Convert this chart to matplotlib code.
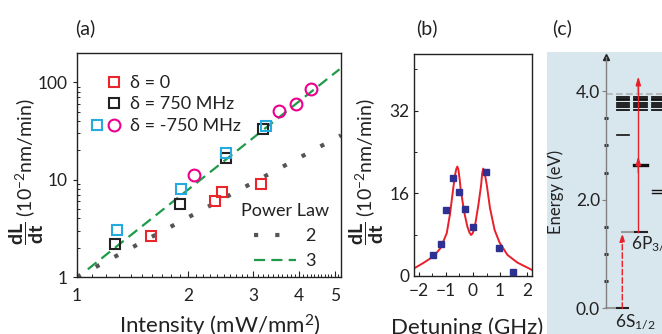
import numpy as np
import matplotlib
matplotlib.use("Agg")
import matplotlib.pyplot as plt
from matplotlib.lines import Line2D
from matplotlib.legend_handler import HandlerTuple
from matplotlib.ticker import FixedLocator, NullFormatter, FixedFormatter

plt.rcParams['font.family'] = ['Lato', 'Liberation Serif', 'DejaVu Sans']
plt.rcParams['mathtext.fontset'] = 'custom'
plt.rcParams['mathtext.rm'] = 'Lato'
plt.rcParams['mathtext.bf'] = 'Lato:bold'
plt.rcParams['mathtext.it'] = 'Lato:italic'
TXT = '#222222'

# ---------------- data: panel (a) ----------------
d0_x = [1.59, 2.37, 2.47, 3.15]
d0_y = [2.65, 6.07, 7.4, 9.1]
p750_x = [1.266, 1.905, 2.53, 3.20]
p750_y = [2.2, 5.66, 16.6, 33.3]
m750_sq_x = [1.284, 1.91, 2.54, 3.25]
m750_sq_y = [3.03, 7.95, 18.7, 35.5]
m750_ci_x = [2.08, 3.53, 3.92, 4.30]
m750_ci_y = [11.1, 50.2, 59.3, 85.4]
pl2_x = [1.0, 5.2]
pl2_y = [1.0, 28.5]
pl3_x = [1.07, 5.15]
pl3_y = [1.2, 136.0]

# ---------------- data: panel (b) ----------------
det_x = [-1.49, -1.2, -0.99, -0.74, -0.51, -0.31, 0.0, 0.47, 0.975, 1.47]
det_y = [4.07, 6.2, 12.8, 19.07, 16.35, 13.06, 9.44, 20.2, 5.37, 0.71]
fit_x = [-2.17, -1.81, -1.44, -1.2, -0.97, -0.85, -0.73, -0.67, -0.62, -0.58,
         -0.54, -0.49, -0.46, -0.33, -0.21, -0.13, -0.07, -0.01, 0.07, 0.2,
         0.3, 0.34, 0.38, 0.42, 0.46, 0.51, 0.63, 0.8, 0.98, 1.27, 1.64, 2.17]
fit_y = [1.5, 2.6, 3.9, 5.4, 8.3, 12.0, 17.0, 19.4, 20.7, 21.2,
         20.6, 18.6, 17.0, 12.5, 9.6, 8.4, 7.95, 8.3, 9.6, 13.8,
         17.6, 19.9, 20.8, 20.3, 19.1, 17.6, 13.1, 8.9, 6.5, 4.1, 2.6, 1.2]

# ---------------- data: panel (c) energies (eV) ----------------
E_6S = 0.0
E_6P = 1.41
E_ion = 3.94
E_ryd = [3.89, 3.86, 3.83, 3.79, 3.75, 3.70, 3.65]
E_col1 = 3.19
E_col2 = 2.63
E_col3 = [2.17, 2.13]
E_laser_top = 4.27
E_mid_arrow = 2.80

W, H = 662, 334
fig = plt.figure(figsize=(W / 100, H / 100), dpi=100)

def fx(px):
    return px / W

def fy(py):
    return 1 - py / H

# ================= panel (a) =================
ax = fig.add_axes([fx(77), fy(277), (341 - 77) / W, (277 - 53) / H])
ax.set_xscale('log')
ax.set_yscale('log')
ax.set_xlim(1, 5.2)
ax.set_ylim(1, 200)

l2, = ax.plot(pl2_x, pl2_y, color='#555555', lw=3, linestyle=(0, (1, 4.1)),
              dash_capstyle='butt', zorder=2)
l3, = ax.plot(pl3_x, pl3_y, color='#1f9a48', lw=1.6, linestyle=(0, (5, 2.8)),
              zorder=2)

mk = dict(linestyle='none', mfc='none', mew=1.5, ms=7.5, zorder=3)
h0, = ax.plot(d0_x, d0_y, marker='s', mec='#e8262c', **mk)
h1, = ax.plot(p750_x, p750_y, marker='s', mec='#222222', **mk)
h2, = ax.plot(m750_sq_x, m750_sq_y, marker='s', mec='#25a9e0', **mk)
h3, = ax.plot(m750_ci_x, m750_ci_y, marker='o', mec='#ec008c',
              linestyle='none', mfc='none', mew=1.5, ms=8.5, zorder=3)

blank = Line2D([], [], linestyle='none', marker='s', mfc='none', mec='none')
leg1 = ax.legend([(blank, h0), (blank, h1), (h2, h3)],
                 ['δ = 0', 'δ = 750 MHz', 'δ = -750 MHz'],
                 handler_map={tuple: HandlerTuple(ndivide=None, pad=0)},
                 loc='upper left', bbox_to_anchor=((89 - 77) / 264, (277 - 75) / 224),
                 frameon=False, fontsize=13, handlelength=1.85, handletextpad=0.4,
                 labelspacing=0.3, borderpad=0, borderaxespad=0)
for t in leg1.get_texts():
    t.set_color(TXT)
ax.add_artist(leg1)

leg2 = ax.legend([l2, l3], ['2', '3'], title='Power Law', loc='upper center',
                 bbox_to_anchor=((285 - 77) / 264, (277 - 203) / 224),
                 frameon=False, fontsize=13, title_fontsize=13, handlelength=2.3,
                 handletextpad=0.55, labelspacing=0.5, borderpad=0, borderaxespad=0)
for t in leg2.get_texts():
    t.set_color(TXT)
leg2.get_title().set_color(TXT)

ax.xaxis.set_major_locator(FixedLocator([1, 2, 3, 4, 5]))
ax.xaxis.set_major_formatter(FixedFormatter(['1', '2', '3', '4', '5']))
ax.xaxis.set_minor_locator(FixedLocator([v / 10 for v in range(11, 52) if v % 10 != 0]))
ax.xaxis.set_minor_formatter(NullFormatter())
ax.yaxis.set_major_locator(FixedLocator([1, 10, 100]))
ax.yaxis.set_major_formatter(FixedFormatter(['1', '10', '100']))
ax.yaxis.set_minor_locator(FixedLocator([m * 10 ** e for e in range(0, 3) for m in range(2, 10)]))
ax.yaxis.set_minor_formatter(NullFormatter())
ax.tick_params(axis='x', which='major', direction='in', length=4, labelsize=12.5, pad=8, colors=TXT)
ax.tick_params(axis='x', which='minor', direction='in', length=2.5)
ax.tick_params(axis='y', which='major', direction='out', length=3, labelsize=12.5, colors=TXT)
ax.tick_params(axis='y', which='minor', direction='in', length=2.5)
for s in ax.spines.values():
    s.set_linewidth(1.0)
    s.set_color('#222222')

fig.text(fx(220), fy(333.5), 'Intensity (mW/mm$^{2}$)', ha='center', va='baseline',
         fontsize=16, color=TXT)
fig.text(fx(27), fy(172), r'$\dfrac{\mathbf{dL}}{\mathbf{dt}}$ (10$^{-2}$nm/min)',
         rotation=90, ha='center', va='center', fontsize=14, color=TXT)
fig.text(fx(85), fy(28), '(a)', ha='center', va='center', fontsize=14, color=TXT)

# ================= panel (b) =================
bx = fig.add_axes([fx(414.3), fy(276), (531.7 - 414.3) / W, (276 - 54) / H])
bx.plot(fit_x, fit_y, color='#e8202a', lw=1.4, zorder=2)
bx.plot(det_x, det_y, linestyle='none', marker='s', ms=4.5, color='#2e3192',
        mec='#2e3192', zorder=3)
bx.set_xlim(-2.17, 2.17)
bx.set_ylim(0, 43)
bx.set_xticks([-2, -1, 0, 1, 2])
bx.set_xticks([-1.5, -0.5, 0.5, 1.5], minor=True)
bx.set_yticks([0, 16, 32])
bx.set_yticks([8, 24, 40], minor=True)
bx.tick_params(which='major', direction='in', length=3, labelsize=12.5, colors=TXT)
bx.tick_params(which='minor', direction='in', length=2)
bx.tick_params(axis='x', pad=5)
for s in bx.spines.values():
    s.set_linewidth(1.0)
    s.set_color('#222222')
fig.text(fx(467), fy(333.5), 'Detuning (GHz)', ha='center', va='baseline',
         fontsize=16, color=TXT)
fig.text(fx(367), fy(172), r'$\dfrac{\mathbf{dL}}{\mathbf{dt}}$ (10$^{-2}$nm/min)',
         rotation=90, ha='center', va='center', fontsize=14, color=TXT)
fig.text(fx(427), fy(28), '(b)', ha='center', va='center', fontsize=14, color=TXT)

# ================= panel (c) =================
cx = fig.add_axes([fx(547), 0, (662 - 547) / W, (334 - 52) / H])
cx.set_facecolor('#d8e6ed')
cx.set_xlim(0, 115)
cx.set_ylim(-0.473, 4.72)
for k in ['top', 'right', 'bottom']:
    cx.spines[k].set_visible(False)
cx.spines['left'].set_position(('data', 58.5))
cx.spines['left'].set_bounds(0, 4.62)
cx.spines['left'].set_color('#808080')
cx.spines['left'].set_linewidth(1.0)
cx.set_xticks([])
cx.set_yticks([0, 2, 4])
cx.set_yticklabels(['0.0', '2.0', '4.0'])
cx.set_yticks([0.5, 1.0, 1.5, 2.5, 3.0, 3.5], minor=True)
cx.tick_params(axis='y', which='major', direction='out', length=3, labelsize=12.5,
               colors='#808080', labelcolor=TXT, pad=1)
cx.tick_params(axis='y', which='minor', direction='inout', length=2.5, width=2,
               colors='#222222')
cx.plot([58.5], [4.62], marker='^', color='#222222', ms=5, clip_on=False)

cx.plot([58.5, 115], [E_ion, E_ion], color='#b0b0b0', lw=1.2, linestyle=(0, (4, 2)))
for e in E_ryd:
    cx.plot([69.7, 82], [e, e], color='#111111', lw=1.3)
    cx.plot([87.3, 99.7], [e, e], color='#111111', lw=1.3)
    cx.plot([104.7, 115], [e, e], color='#111111', lw=1.3)
cx.plot([69.7, 82], [E_col1, E_col1], color='#111111', lw=1.2)
cx.plot([87.3, 99.7], [E_col2, E_col2], color='#111111', lw=2.4)
for e in E_col3:
    cx.plot([104.7, 115], [e, e], color='#111111', lw=1.0)

cx.plot([58.5, 69.7], [E_6S, E_6S], color='#999999', lw=1.5)
cx.plot([69.7, 81], [E_6S, E_6S], color='#222222', lw=1.5)
cx.plot([74.7, 88], [E_6P, E_6P], color='#999999', lw=1.5)
cx.plot([88, 99.7], [E_6P, E_6P], color='#222222', lw=1.5)

cx.annotate('', xy=(75.3, E_6P - 0.02), xytext=(75.3, E_6S),
            arrowprops=dict(arrowstyle='-|>,head_length=0.5,head_width=0.15',
                            color='#e8202a', lw=1.0, linestyle=(0, (4, 2)),
                            shrinkA=0, shrinkB=0))
cx.plot([91.3, 91.3], [E_6P, E_laser_top - 0.1], color='#e8202a', lw=1.0)
cx.annotate('', xy=(91.3, E_laser_top), xytext=(91.3, E_laser_top - 0.3),
            arrowprops=dict(arrowstyle='-|>,head_length=0.5,head_width=0.15',
                            color='#e8202a', lw=1.0, shrinkA=0, shrinkB=0))
cx.annotate('', xy=(91.3, E_mid_arrow), xytext=(91.3, E_mid_arrow - 0.3),
            arrowprops=dict(arrowstyle='-|>,head_length=0.5,head_width=0.15',
                            color='#e8202a', lw=1.0, shrinkA=0, shrinkB=0))

cx.text(84, 1.2, '6P$_{3/2}$', ha='left', va='center', fontsize=12.5, color=TXT)
cx.text(68, -0.24, '6S$_{1/2}$', ha='left', va='center', fontsize=12.5, color=TXT)
cx.text(9, 2.14, 'Energy (eV)', rotation=90, ha='center', va='center',
        fontsize=12, color=TXT)
fig.text(fx(562), fy(28), '(c)', ha='center', va='center', fontsize=14, color=TXT)

fig.savefig('out.png', dpi=100)
